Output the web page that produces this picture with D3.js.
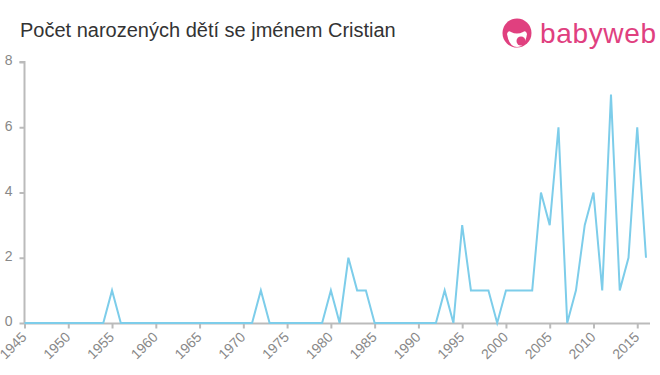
<!DOCTYPE html>
<html>
    <head>
        <meta charset="utf-8">
        <title>Cristian</title>
        <script src="https://cdn.jsdelivr.net/npm/d3@7"></script>
        <style>
            body { margin: 0; background: #fff; }
            svg text { font-family: "Liberation Sans", Arial, sans-serif; }
        </style>
    </head>
    <body>
        <svg id="svg"></svg>

        <script>
            var WIDTH = 660;
            var HEIGHT = 375;

            var years = d3.range(1945, 2017);
            var counts = [
                0,0,0,0,0, 0,0,0,0,0,      // 1945-1954
                1,0,0,0,0, 0,0,0,0,0,      // 1955-1964
                0,0,0,0,0, 0,0,1,0,0,      // 1965-1974
                0,0,0,0,0, 1,0,2,1,1,      // 1975-1984
                0,0,0,0,0, 0,0,0,1,0,      // 1985-1994
                3,1,1,1,0, 1,1,1,1,4,      // 1995-2004
                3,6,0,1,3, 4,1,7,1,2,      // 2005-2014
                6,2                        // 2015-2016
            ];
            var xTicks = d3.range(1945, 2016, 5);
            var yTicks = [0, 2, 4, 6, 8];

            var svg = d3.select('#svg')
                        .attr('width', WIDTH)
                        .attr('height', HEIGHT);

            var x = d3.scaleLinear().domain([1945, 2016]).range([24.5, 646]);
            var y = d3.scaleLinear().domain([0, 8]).range([323, 62]);

            // title
            svg.append('text')
               .attr('x', 20).attr('y', 37)
               .attr('font-size', 20)
               .attr('fill', '#333')
               .text('Počet narozených dětí se jménem Cristian');

            // logo
            var logo = svg.append('g').attr('transform', 'translate(517,33)');
            logo.append('circle').attr('r', 14.5).attr('fill', '#e0407f');
            logo.append('path')
                .attr('d', 'M-10,1 Q-9,-3 -6,-1 Q0,2 6,-1 Q9,-3 10,1 Q8,14 0,14 Q-8,14 -10,1Z')
                .attr('fill', '#fff');
            logo.append('circle').attr('cx', 4).attr('cy', 8).attr('r', 4.5).attr('fill', '#e0407f');
            svg.append('text')
               .attr('x', 540).attr('y', 43)
               .attr('font-size', 28)
               .attr('textLength', 116)
               .attr('fill', '#e0407f')
               .text('babyweb');

            // y axis
            var yAxis = svg.append('g')
               .attr('transform', 'translate(24.5,0)')
               .call(d3.axisLeft(y).tickValues(yTicks).tickSize(5).tickPadding(7))
               .attr('font-size', 14);
            yAxis.select('.domain').attr('stroke', '#bbb').attr('stroke-width', 2)
                 .attr('d', 'M-5,62H0V323');
            yAxis.selectAll('.tick line').attr('stroke', '#bbb').attr('stroke-width', 2);
            yAxis.selectAll('.tick text').attr('fill', '#888').attr('y', -1.5);

            // x axis
            var xAxis = svg.append('g')
               .attr('transform', 'translate(0,323.5)')
               .call(d3.axisBottom(x).tickValues(xTicks).tickFormat(d3.format('d')).tickSize(5))
               .attr('font-size', 14);
            xAxis.select('.domain').attr('stroke', '#bbb').attr('stroke-width', 2)
                 .attr('d', 'M24.5,0H650');
            xAxis.selectAll('.tick line').attr('stroke', '#bbb').attr('stroke-width', 2);
            xAxis.selectAll('.tick text')
                 .attr('fill', '#888')
                 .attr('text-anchor', 'end')
                 .attr('x', 0).attr('y', 0).attr('dy', 0)
                 .attr('transform', 'translate(2.5,14.5) rotate(-45)');

            // line
            var line = d3.line()
                .x(function(d, i){ return x(years[i]); })
                .y(function(d){ return y(d); });

            svg.append('path')
               .datum(counts)
               .attr('d', line)
               .attr('fill', 'none')
               .attr('stroke', '#7dcdea')
               .attr('stroke-width', 2);
        </script>
    </body>
</html>
